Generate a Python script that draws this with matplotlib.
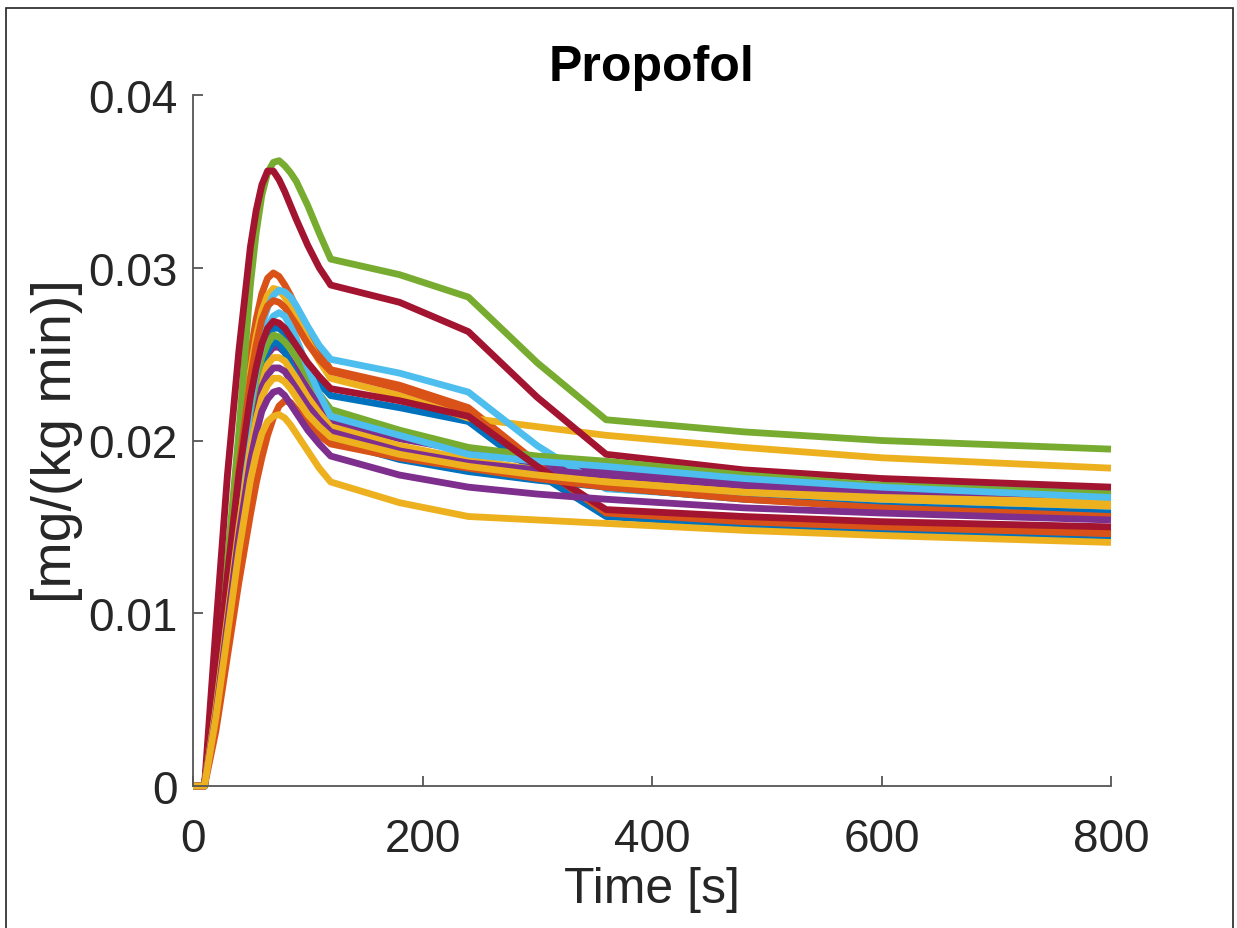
import matplotlib
matplotlib.use('Agg')
import matplotlib.pyplot as plt
from matplotlib.patches import Rectangle

# ---- data ----
time_s = [0, 10, 20, 30, 40, 50, 55, 60, 65, 70, 75, 80, 85, 90, 100, 110, 120,
          180, 240, 300, 360, 480, 600, 800]

blue_a   = [0, 0, 0.0055, 0.0115, 0.0172, 0.0218, 0.0236, 0.0250, 0.0260, 0.0265, 0.0265, 0.0262, 0.0257, 0.0251, 0.0241, 0.0233, 0.0226,
            0.0219, 0.0211, 0.0181, 0.0156, 0.0151, 0.0148, 0.0144]
orange_a = [0, 0, 0.0060, 0.0128, 0.0195, 0.0250, 0.0270, 0.0285, 0.0294, 0.0297, 0.0295, 0.0290, 0.0284, 0.0277, 0.0263, 0.0251, 0.0241,
            0.0232, 0.0219, 0.0187, 0.0159, 0.0154, 0.0151, 0.0147]
yellow_a = [0, 0, 0.0055, 0.0120, 0.0185, 0.0240, 0.0260, 0.0275, 0.0284, 0.0288, 0.0287, 0.0283, 0.0277, 0.0271, 0.0258, 0.0246, 0.0236,
            0.0226, 0.0213, 0.0208, 0.0203, 0.0196, 0.0190, 0.0184]
purple_a = [0, 0, 0.0050, 0.0108, 0.0165, 0.0211, 0.0228, 0.0242, 0.0250, 0.0254, 0.0254, 0.0251, 0.0246, 0.0241, 0.0230, 0.0220, 0.0211,
            0.0201, 0.0194, 0.0187, 0.0182, 0.0177, 0.0174, 0.0171]
green_a  = [0, 0, 0.0060, 0.0130, 0.0205, 0.0290, 0.0320, 0.0342, 0.0355, 0.0361, 0.0362, 0.0359, 0.0355, 0.0350, 0.0336, 0.0320, 0.0305,
            0.0296, 0.0283, 0.0245, 0.0212, 0.0205, 0.0200, 0.0195]
lblue_a  = [0, 0, 0.0050, 0.0110, 0.0172, 0.0228, 0.0250, 0.0266, 0.0277, 0.0284, 0.0287, 0.0286, 0.0283, 0.0278, 0.0266, 0.0255, 0.0247,
            0.0239, 0.0228, 0.0197, 0.0172, 0.0167, 0.0164, 0.0161]
dred_a   = [0, 0, 0.0092, 0.0180, 0.0252, 0.0312, 0.0333, 0.0348, 0.0356, 0.0356, 0.0351, 0.0344, 0.0336, 0.0328, 0.0313, 0.0300, 0.0290,
            0.0280, 0.0263, 0.0225, 0.0192, 0.0183, 0.0178, 0.0173]

blue_b   = [0, 0, 0.0050, 0.0108, 0.0165, 0.0212, 0.0230, 0.0243, 0.0252, 0.0257, 0.0256, 0.0251, 0.0244, 0.0236, 0.0221, 0.0209, 0.0200,
            0.0189, 0.0182, 0.0177, 0.0173, 0.0166, 0.0162, 0.0158]
orange_b = [0, 0, 0.0055, 0.0120, 0.0183, 0.0236, 0.0255, 0.0270, 0.0278, 0.0281, 0.0280, 0.0277, 0.0272, 0.0267, 0.0256, 0.0247, 0.0240,
            0.0230, 0.0217, 0.0186, 0.0158, 0.0153, 0.0150, 0.0146]
yellow_b = [0, 0, 0.0048, 0.0104, 0.0160, 0.0205, 0.0222, 0.0236, 0.0244, 0.0248, 0.0248, 0.0246, 0.0241, 0.0236, 0.0225, 0.0216, 0.0208,
            0.0197, 0.0189, 0.0183, 0.0179, 0.0173, 0.0169, 0.0165]
purple_b = [0, 0, 0.0046, 0.0100, 0.0155, 0.0200, 0.0217, 0.0231, 0.0238, 0.0242, 0.0242, 0.0240, 0.0235, 0.0230, 0.0220, 0.0212, 0.0205,
            0.0194, 0.0187, 0.0183, 0.0180, 0.0174, 0.0171, 0.0168]
green_b  = [0, 0, 0.0052, 0.0112, 0.0170, 0.0217, 0.0235, 0.0248, 0.0256, 0.0261, 0.0260, 0.0257, 0.0253, 0.0248, 0.0237, 0.0227, 0.0218,
            0.0206, 0.0196, 0.0191, 0.0188, 0.0180, 0.0174, 0.0169]
lblue_b  = [0, 0, 0.0050, 0.0108, 0.0168, 0.0220, 0.0240, 0.0255, 0.0266, 0.0272, 0.0274, 0.0272, 0.0266, 0.0259, 0.0242, 0.0227, 0.0214,
            0.0203, 0.0192, 0.0188, 0.0185, 0.0178, 0.0173, 0.0167]
dred_b   = [0, 0, 0.0058, 0.0122, 0.0180, 0.0225, 0.0242, 0.0256, 0.0265, 0.0269, 0.0268, 0.0265, 0.0260, 0.0255, 0.0245, 0.0237, 0.0230,
            0.0223, 0.0214, 0.0185, 0.0160, 0.0156, 0.0153, 0.0150]

orange_c = [0, 0, 0.0032, 0.0075, 0.0118, 0.0157, 0.0175, 0.0190, 0.0203, 0.0213, 0.0220, 0.0223, 0.0222, 0.0218, 0.0210, 0.0203, 0.0198,
            0.0190, 0.0184, 0.0178, 0.0173, 0.0166, 0.0161, 0.0156]
yellow_c = [0, 0, 0.0045, 0.0098, 0.0150, 0.0195, 0.0212, 0.0225, 0.0232, 0.0236, 0.0236, 0.0234, 0.0230, 0.0225, 0.0215, 0.0208, 0.0202,
            0.0192, 0.0185, 0.0180, 0.0176, 0.0170, 0.0166, 0.0162]
purple_c = [0, 0, 0.0042, 0.0094, 0.0145, 0.0188, 0.0204, 0.0217, 0.0224, 0.0228, 0.0229, 0.0226, 0.0221, 0.0216, 0.0206, 0.0198, 0.0191,
            0.0180, 0.0173, 0.0169, 0.0166, 0.0161, 0.0158, 0.0154]
yellow_d = [0, 0, 0.0040, 0.0088, 0.0136, 0.0177, 0.0192, 0.0204, 0.0211, 0.0214, 0.0215, 0.0213, 0.0209, 0.0204, 0.0194, 0.0184, 0.0176,
            0.0164, 0.0156, 0.0154, 0.0152, 0.0148, 0.0145, 0.0141]

x_ticks = [0, 200, 400, 600, 800]
y_ticks = [0, 0.01, 0.02, 0.03, 0.04]
y_tick_labels = ['0', '0.01', '0.02', '0.03', '0.04']
title_text = 'Propofol'
x_label = 'Time [s]'
y_label = '[mg/(kg min)]'

# ---- styles ----
C_BLUE, C_ORANGE, C_YELLOW = '#0072BD', '#D95319', '#EDB120'
C_PURPLE, C_GREEN, C_LBLUE, C_DRED = '#7E2F8E', '#77AC30', '#4DBEEE', '#A2142F'

series = [
    (blue_a, C_BLUE), (orange_a, C_ORANGE), (yellow_a, C_YELLOW), (purple_a, C_PURPLE),
    (green_a, C_GREEN), (lblue_a, C_LBLUE), (dred_a, C_DRED),
    (blue_b, C_BLUE), (orange_b, C_ORANGE), (yellow_b, C_YELLOW), (purple_b, C_PURPLE),
    (green_b, C_GREEN), (lblue_b, C_LBLUE), (dred_b, C_DRED),
    (orange_c, C_ORANGE), (yellow_c, C_YELLOW), (purple_c, C_PURPLE), (yellow_d, C_YELLOW),
]

plt.rcParams['font.family'] = ['Liberation Sans', 'DejaVu Sans']
W, H = 1237, 929
fig = plt.figure(figsize=(W / 100, H / 100), dpi=100)
ax = fig.add_axes([193 / W, (H - 787) / H, (1111 - 193) / W, (787 - 96) / H])

for vals, col in series:
    ax.plot(time_s, vals, color=col, lw=4.9, solid_joinstyle='round',
            solid_capstyle='butt', clip_on=False)

ax.set_xlim(0, 800)
ax.set_ylim(0, 0.04)
ax.set_xticks(x_ticks)
ax.set_yticks(y_ticks)
ax.set_xticklabels([str(v) for v in x_ticks])
ax.set_yticklabels(y_tick_labels)

axcol = '#262626'
for s in ['top', 'right']:
    ax.spines[s].set_visible(False)
for s in ['left', 'bottom']:
    ax.spines[s].set_color('#555555')
    ax.spines[s].set_linewidth(1.3)
ax.tick_params(axis='both', direction='in', length=7, width=1.3, color='#555555',
               labelsize=33, labelcolor=axcol)
ax.tick_params(axis='x', pad=22)
ax.tick_params(axis='y', pad=11)

ax.set_title(title_text, fontsize=36, fontweight='bold', color='black', pad=11)
ax.set_xlabel(x_label, fontsize=36, color=axcol, labelpad=4)
ax.set_ylabel(y_label, fontsize=40, color=axcol, labelpad=4)

# outer frame of the exported figure
fig.patches.append(Rectangle((6 / W, -0.01), (1233 - 6) / W, 1.01 - 9 / H,
                             transform=fig.transFigure, fill=False,
                             edgecolor='#222222', lw=1.2))

fig.savefig('out.png', dpi=100, facecolor='white')
